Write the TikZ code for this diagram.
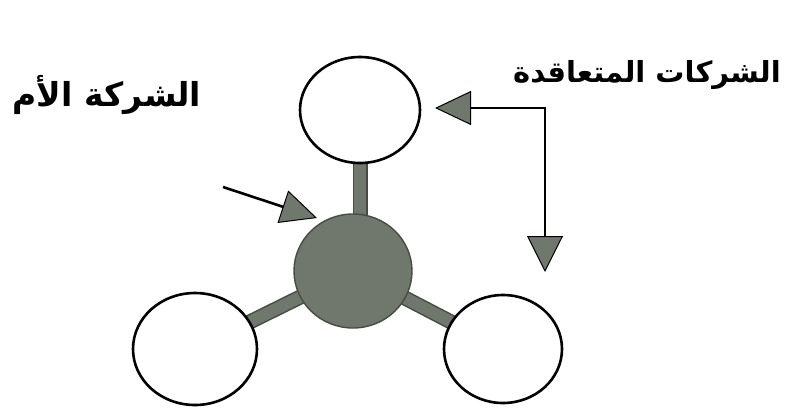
\documentclass[tikz,border=0pt]{standalone}
\usepackage{fontspec}
\usepackage{graphicx}
\usetikzlibrary{shapes.geometric,arrows.meta,backgrounds}
\newfontfamily\arabicfont[Script=Arabic]{DejaVu Sans}
\TeXXeTstate=1
\definecolor{gcol}{RGB}{112,120,110}
\definecolor{gedge}{RGB}{70,76,68}
\tikzset{
  ball/.style={ellipse, draw=black, line width=2.6pt, fill=white, inner sep=0pt},
  core/.style={ellipse, draw=gedge, line width=1.4pt, fill=gcol, inner sep=0pt},
  stemout/.style={line width=15pt, draw=gedge, shorten <=-4pt, shorten >=-4pt},
  stemin/.style={line width=12pt, draw=gcol, shorten <=-4pt, shorten >=-4pt},
  pointer/.style={line width=2.6pt, draw=black},
  label/.style={inner sep=0pt}
}
\begin{document}
\begin{tikzpicture}[x=1pt,y=1pt]
\useasboundingbox (0,0) rectangle (795,-408);
% molecules
\node[ball, minimum width=120pt, minimum height=106pt] (top) at (360,-110) {};
\node[core, minimum width=118pt, minimum height=114pt] (c) at (353,-271) {};
\node[ball, minimum width=124pt, minimum height=112pt] (bl) at (195,-349) {};
\node[ball, minimum width=118pt, minimum height=108pt] (br) at (503,-349) {};
\begin{scope}[on background layer]
  \fill[white] (0,0) rectangle (795,-408);
  \draw[stemout] (top) -- (top |- c);
  \draw[stemin] (top) -- (top |- c);
  \draw[stemout] (c) -- (bl);
  \draw[stemin] (c) -- (bl);
  \draw[stemout] (c) -- (br);
  \draw[stemin] (c) -- (br);
\end{scope}
% labels
\node[label, font=\arabicfont\bfseries\fontsize{33}{38}\selectfont] (mother) at (107,-95) {\beginR الشركة الأم\endR};
\node[label, font=\arabicfont\bfseries\fontsize{29}{34}\selectfont] (contract) at (647,-75) {\beginR الشركات المتعاقدة\endR};
% arrows
\coordinate (la) at (223,-187);
\coordinate (lt) at (317,-218);
\draw[pointer, -{Triangle[length=36pt, width=34pt, fill=gcol, line width=1pt]}] (la) -- (lt);
\coordinate (rt) at (435,-108);
\coordinate (rc) at (545,-108);
\coordinate (dt) at (545,-272);
\draw[pointer, {Triangle[length=36pt, width=34pt, fill=gcol, line width=1pt]}-{Triangle[length=36pt, width=36pt, fill=gcol, line width=1pt]}] (rt) -- (rc) -- (dt);
\end{tikzpicture}
\end{document}
